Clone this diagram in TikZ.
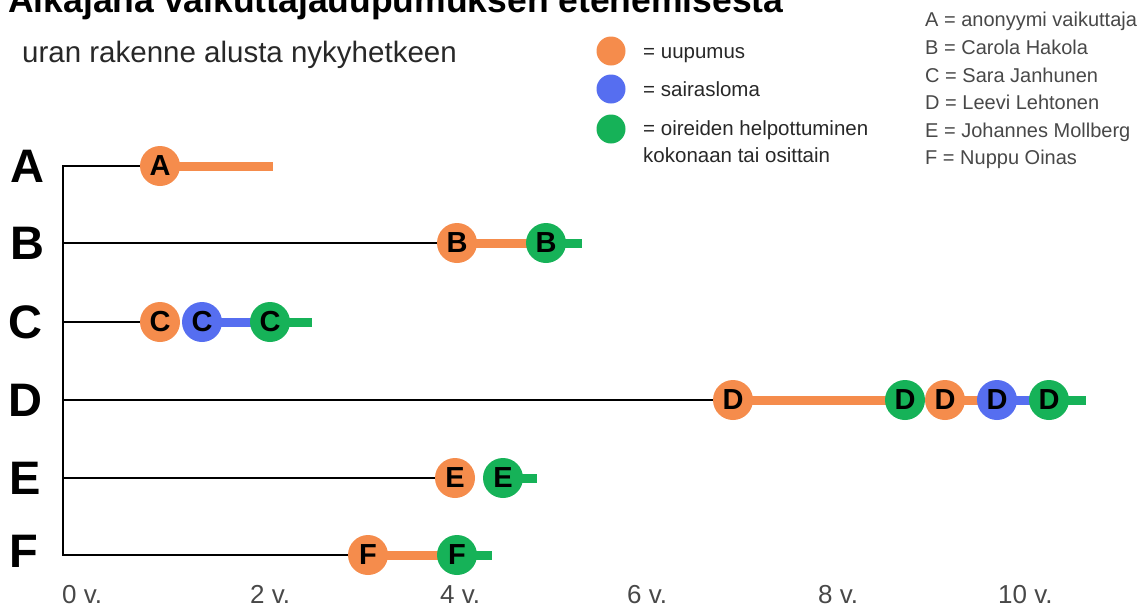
\documentclass[tikz,border=0pt]{standalone}
\usepackage{fontspec}
\setmainfont{Liberation Sans}
\definecolor{cOr}{RGB}{245,140,76}
\definecolor{cBl}{RGB}{86,110,240}
\definecolor{cGr}{RGB}{22,178,88}
\definecolor{cTx}{RGB}{40,40,40}
\begin{document}
\begin{tikzpicture}[x=1pt,y=-1pt,
  dot/.style={circle,minimum size=40pt,inner sep=0pt,font=\fontsize{29}{29}\selectfont\bfseries,text=black},
  ldot/.style={circle,minimum size=29pt,inner sep=0pt},
  bar/.style={line width=9pt},
  base/.style={line width=1.6pt,black},
  rowlab/.style={anchor=center,font=\fontsize{47}{47}\selectfont\bfseries},
  legtxt/.style={anchor=base west,inner sep=0pt,font=\fontsize{20.5}{20.5}\selectfont,text=cTx},
  nametxt/.style={anchor=base west,inner sep=0pt,font=\fontsize{20}{20}\selectfont,text=cTx!85},
  axtxt/.style={anchor=base west,inner sep=0pt,font=\fontsize{26}{26}\selectfont,text=cTx!85}]
\useasboundingbox (0,0) rectangle (1145,606);
% title (cut off at top)
\node[anchor=base west,inner sep=0pt,font=\fontsize{35.5}{35.5}\selectfont\bfseries] (title) at (8,12) {Aikajana vaikuttajauupumuksen etenemisesta};
\node[anchor=base west,inner sep=0pt,font=\fontsize{29.5}{29.5}\selectfont,text=cTx] (sub) at (22,62) {uran rakenne alusta nykyhetkeen};
% legend
\node[ldot,fill=cOr] (l1) at (611,51) {};
\node[ldot,fill=cBl] (l2) at (611,89) {};
\node[ldot,fill=cGr] (l3) at (611,129) {};
\node[legtxt] (t1) at (643,58) {= uupumus};
\node[legtxt] (t2) at (643,96) {= sairasloma};
\node[legtxt] (t3) at (643,135) {= oireiden helpottuminen};
\node[legtxt] (t4) at (643,162) {kokonaan tai osittain};
% names
\node[nametxt] (nA) at (925,26) {A = anonyymi vaikuttaja};
\node[nametxt] (nB) at (925,54) {B = Carola Hakola};
\node[nametxt] (nC) at (925,82) {C = Sara Janhunen};
\node[nametxt] (nD) at (925,109) {D = Leevi Lehtonen};
\node[nametxt] (nE) at (925,137) {E = Johannes Mollberg};
\node[nametxt] (nF) at (925,164) {F = Nuppu Oinas};
% row labels
\node[rowlab] (rA) at (27,166) {A};
\node[rowlab] (rB) at (27,243) {B};
\node[rowlab] (rC) at (25,322) {C};
\node[rowlab] (rD) at (25,400) {D};
\node[rowlab] (rE) at (25,478) {E};
\node[rowlab] (rF) at (24,551) {F};
% axis labels
\node[axtxt] (x0) at (62,603) {0 v.};
\node[axtxt] (x2) at (250,603) {2 v.};
\node[axtxt] (x4) at (440,603) {4 v.};
\node[axtxt] (x6) at (627,603) {6 v.};
\node[axtxt] (x8) at (818,603) {8 v.};
\node[axtxt] (x10) at (998,603) {10 v.};
% axis
\coordinate (top) at (63,165);
\coordinate (bot) at (63,556);
\coordinate (yA) at (63,166);
\coordinate (yB) at (63,243);
\coordinate (yC) at (63,322);
\coordinate (yD) at (63,400);
\coordinate (yE) at (63,478);
\coordinate (yF) at (63,555);
\draw[base] (top) -- (bot);
% circle positions
\coordinate (A1) at (160,166);
\coordinate (Aend) at (273,166);
\coordinate (B1) at (457,243);
\coordinate (B2) at (546,243);
\coordinate (Bend) at (582,243);
\coordinate (C1) at (160,322);
\coordinate (C2) at (202,322);
\coordinate (C3) at (270,322);
\coordinate (Cend) at (312,322);
\coordinate (D1) at (733,400);
\coordinate (D2) at (905,400);
\coordinate (D3) at (945,400);
\coordinate (D4) at (997,400);
\coordinate (D5) at (1049,400);
\coordinate (Dend) at (1086,400);
\coordinate (E1) at (455,478);
\coordinate (E2) at (503,478);
\coordinate (Eend) at (537,478);
\coordinate (F1) at (368,555);
\coordinate (F2) at (457,555);
\coordinate (Fend) at (492,555);
% base lines
\draw[base] (yA) -- (A1);
\draw[base] (yB) -- (B1);
\draw[base] (yC) -- (C1);
\draw[base] (yD) -- (D1);
\draw[base] (yE) -- (E1);
\draw[base] (yF) -- (F1);
% bars
\draw[bar,cOr] (A1) -- (Aend);
\draw[bar,cOr] (B1) -- (B2);
\draw[bar,cGr] (B2) -- (Bend);
\draw[bar,cBl] (C2) -- (C3);
\draw[bar,cGr] (C3) -- (Cend);
\draw[bar,cOr] (D1) -- (D2);
\draw[bar,cOr] (D3) -- (D4);
\draw[bar,cBl] (D4) -- (D5);
\draw[bar,cGr] (D5) -- (Dend);
\draw[bar,cGr] (E2) -- (Eend);
\draw[bar,cOr] (F1) -- (F2);
\draw[bar,cGr] (F2) -- (Fend);
% dots
\node[dot,fill=cOr] (dA1) at (A1) {A};
\node[dot,fill=cOr] (dB1) at (B1) {B};
\node[dot,fill=cGr] (dB2) at (B2) {B};
\node[dot,fill=cOr] (dC1) at (C1) {C};
\node[dot,fill=cBl] (dC2) at (C2) {C};
\node[dot,fill=cGr] (dC3) at (C3) {C};
\node[dot,fill=cOr] (dD1) at (D1) {D};
\node[dot,fill=cGr] (dD2) at (D2) {D};
\node[dot,fill=cOr] (dD3) at (D3) {D};
\node[dot,fill=cBl] (dD4) at (D4) {D};
\node[dot,fill=cGr] (dD5) at (D5) {D};
\node[dot,fill=cOr] (dE1) at (E1) {E};
\node[dot,fill=cGr] (dE2) at (E2) {E};
\node[dot,fill=cOr] (dF1) at (F1) {F};
\node[dot,fill=cGr] (dF2) at (F2) {F};
\end{tikzpicture}
\end{document}
